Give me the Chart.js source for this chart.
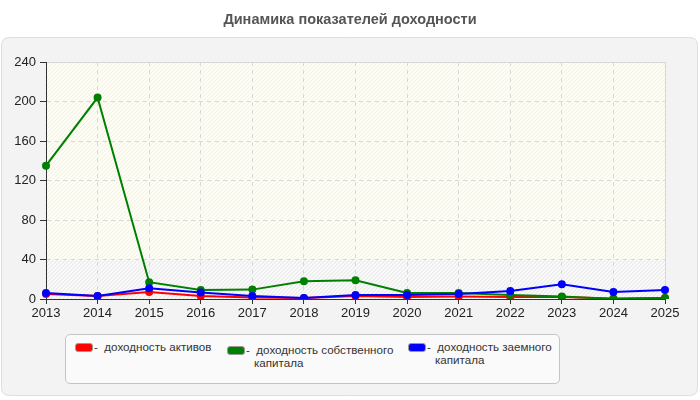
<!DOCTYPE html>
<html><head><meta charset="utf-8">
<script src="https://cdn.jsdelivr.net/npm/chart.js@4/dist/chart.umd.min.js"></script>
<style>
html,body{margin:0;padding:0;background:#fff;}
#wrap{position:relative;width:700px;height:400px;font-family:"Liberation Sans",Arial,sans-serif;}
canvas{position:absolute;left:0;top:0;}
#title{position:absolute;left:0;top:11px;width:700px;text-align:center;font-weight:bold;font-size:14.5px;color:#555;}
#legend{position:absolute;left:65px;top:334px;width:493px;height:48px;background:#fafafa;border:1px solid #c4c4c4;border-radius:5px;}
.it{position:absolute;font-size:11.6px;color:#333;line-height:13px;}
.sw{position:absolute;width:16px;height:7px;border-radius:3px;border:1px solid #999;}
</style></head>
<body><div id="wrap"><canvas id="c" width="700" height="400"></canvas>
<div id="title">Динамика показателей доходности</div>
<div id="legend"></div></div>
<script>
const years = ['2013','2014','2015','2016','2017','2018','2019','2020','2021','2022','2023','2024','2025'];
const assetsReturn = [5, 3, 7, 3, 1.5, 1, 3, 2, 2.5, 2, 2, 0.5, 1];
const equityReturn = [135, 204, 17, 9, 9.5, 18, 19, 6, 6, 4, 2.5, 0, 1];
const debtReturn = [6, 3, 11, 6.5, 3, 1, 4, 4, 5, 8, 15, 7, 9];
const seriesNames = ['- доходность активов', '- доходность собственного капитала', '- доходность заемного капитала'];
const seriesColors = ['#ff0000', '#008000', '#0000ff'];

const legendItems = [
  {x:9, y:8, lines:['- доходность активов']},
  {x:161, y:11, lines:['- доходность собственного','капитала']},
  {x:342, y:8, lines:['- доходность заемного','капитала']}
];
const lg = document.getElementById('legend');
legendItems.forEach((it,i)=>{
  const sw = document.createElement('div'); sw.className='sw';
  sw.style.left = it.x+'px'; sw.style.top = it.y+'px'; sw.style.background = seriesColors[i];
  lg.appendChild(sw);
  const tx = document.createElement('div'); tx.className='it';
  tx.style.left = (it.x+19)+'px'; tx.style.top = (it.y-3)+'px';
  tx.innerHTML = '<span>'+it.lines[0].replace('- ','-&nbsp;&nbsp;')+'</span>' + (it.lines[1]? '<br><span style="padding-left:8px">'+it.lines[1]+'</span>':'');
  lg.appendChild(tx);
});

const bgPlugin = {
  id:'bg',
  beforeDraw(chart){
    const ctx = chart.ctx, a = chart.chartArea, ys = chart.scales.y;
    ctx.save();
    ctx.fillStyle='#fff'; ctx.fillRect(0,0,700,400);
    const x0=1.5,y0=37.5,w=696,h=358,r=8;
    ctx.beginPath();
    ctx.moveTo(x0+r,y0); ctx.lineTo(x0+w-r,y0); ctx.quadraticCurveTo(x0+w,y0,x0+w,y0+r);
    ctx.lineTo(x0+w,y0+h-r); ctx.quadraticCurveTo(x0+w,y0+h,x0+w-r,y0+h);
    ctx.lineTo(x0+r,y0+h); ctx.quadraticCurveTo(x0,y0+h,x0,y0+h-r);
    ctx.lineTo(x0,y0+r); ctx.quadraticCurveTo(x0,y0,x0+r,y0); ctx.closePath();
    ctx.fillStyle='#f3f3f3'; ctx.fill(); ctx.strokeStyle='#dedede'; ctx.lineWidth=1; ctx.stroke();
    const y40 = ys.getPixelForValue(40);
    ctx.fillStyle='#fdfdf4'; ctx.fillRect(a.left,a.top,a.right-a.left,y40-a.top);
    ctx.fillStyle='#fafafa'; ctx.fillRect(a.left,y40,a.right-a.left,a.bottom-y40);
    const hatch=(top,bot,col)=>{
      ctx.save(); ctx.beginPath(); ctx.rect(a.left,top,a.right-a.left,bot-top); ctx.clip();
      ctx.strokeStyle=col; ctx.lineWidth=1; ctx.beginPath();
      for(let x=a.left-(bot-top); x<a.right+10; x+=4){ ctx.moveTo(x,bot); ctx.lineTo(x+(bot-top),top); }
      ctx.stroke(); ctx.restore();
    };
    hatch(a.top,y40,'rgba(200,200,190,0.22)');
    hatch(y40,a.bottom,'rgba(170,170,170,0.28)');
    ctx.strokeStyle='#d8d8d8'; ctx.lineWidth=1;
    ctx.strokeRect(a.left+0.5,a.top+0.5,a.right-a.left,a.bottom-a.top);
    ctx.restore();
  }
};

const mk=(label,data,color,order)=>({label,data,borderColor:color,backgroundColor:color,pointBackgroundColor:color,pointBorderColor:color,borderWidth:2,pointRadius:3,pointHoverRadius:3,tension:0,order,fill:false});

new Chart(document.getElementById('c'),{
  type:'line',
  data:{labels:years,datasets:[
    mk(seriesNames[0],assetsReturn,seriesColors[0],3),
    mk(seriesNames[1],equityReturn,seriesColors[1],2),
    mk(seriesNames[2],debtReturn,seriesColors[2],1)
  ]},
  options:{
    responsive:false,animation:false,
    layout:{padding:{top:62,right:35,left:0,bottom:0}},
    plugins:{legend:{display:false},title:{display:false},tooltip:{enabled:false}},
    scales:{
      x:{offset:false,
        afterFit(s){s.height=101;},
        grid:{color:'#d8d8d8',tickColor:'#333',tickBorderDash:[1,0],tickLength:5,drawOnChartArea:true},
        border:{color:'#333',width:1,dash:[4,4]},
        ticks:{color:'#222',font:{family:'Liberation Sans',size:13},padding:2,maxRotation:0,autoSkip:false}
      },
      y:{min:0,max:240,
        afterFit(s){s.width=46;},
        grid:{color:'#d8d8d8',tickColor:'#333',tickBorderDash:[1,0],tickLength:6},
        border:{color:'#333',width:1,dash:[4,4]},
        ticks:{stepSize:40,color:'#222',font:{family:'Liberation Sans',size:13},padding:4}
      }
    }
  },
  plugins:[bgPlugin]
});
</script></body></html>
